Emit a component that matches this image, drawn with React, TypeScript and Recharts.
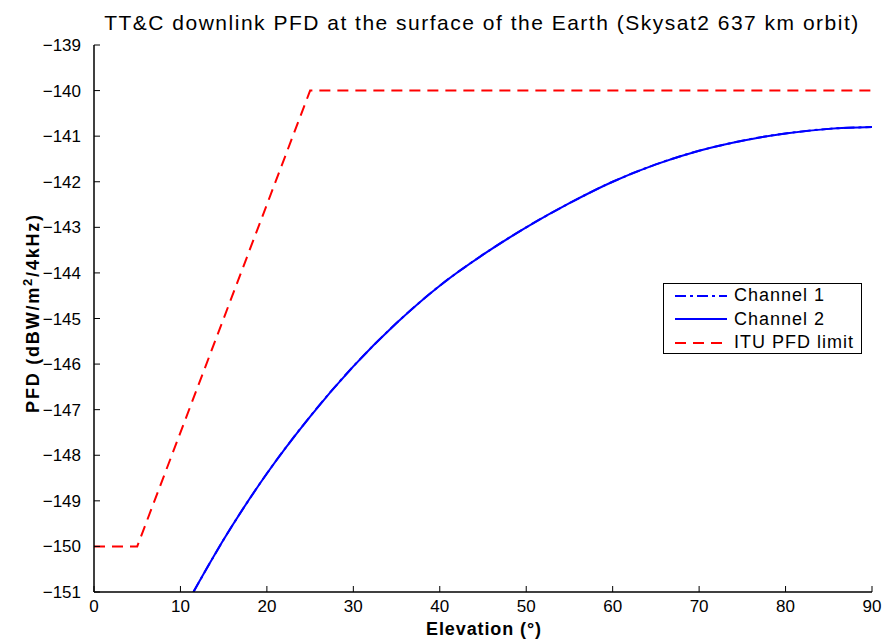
import { LineChart, Line, XAxis, YAxis } from "recharts";

// elevation angle (deg) and PFD (dBW/m^2/4kHz)
const elevation = [11.5, 15, 20, 25, 30, 35, 40, 45, 50, 55, 60, 65, 70, 75, 80, 85, 90];
const channel2 = [
  -151.0, -149.85, -148.4, -147.15, -146.05, -145.1, -144.28, -143.6, -143.0, -142.47,
  -142.0, -141.62, -141.32, -141.1, -140.94, -140.84, -140.8,
];
// channel 1 lies underneath channel 2
const channel1 = channel2.slice();

const ituElevation = [0, 5, 25, 90];
const ituLimit = [-150, -150, -140, -140];

const xTicks = [0, 10, 20, 30, 40, 50, 60, 70, 80, 90];
const yTicks = [-151, -150, -149, -148, -147, -146, -145, -144, -143, -142, -141, -140, -139];

const ch1Data = elevation.map((e, i) => ({ e, v: channel1[i] }));
const ch2Data = elevation.map((e, i) => ({ e, v: channel2[i] }));
const ituData = ituElevation.map((e, i) => ({ e, v: ituLimit[i] }));

const FONT = "'Liberation Sans', Arial, Helvetica, sans-serif";
const tickStyle = { fontSize: 17, fill: "#000", fontFamily: FONT };
const axisLine = { stroke: "#000", strokeWidth: 1.5 };
const minus = (v: number) => String(v).replace("-", "\u2212");

const legendItems = [
  { name: "Channel 1", color: "#0000ff", dash: "11 4 3 4" },
  { name: "Channel 2", color: "#0000ff", dash: undefined },
  { name: "ITU PFD limit", color: "#ff0000", dash: "11 7" },
];

function LegendBox() {
  return (
    <div
      style={{
        position: "absolute",
        left: 663,
        top: 283,
        width: 199,
        height: 71,
        border: "1px solid #000",
        background: "#fff",
        paddingLeft: 11,
        boxSizing: "border-box",
        fontFamily: FONT,
        fontSize: 18,
        letterSpacing: 1,
        lineHeight: "23.5px",
      }}
    >
      {legendItems.map((it) => (
        <div key={it.name} style={{ display: "flex", alignItems: "center", height: 23.5 }}>
          <svg width={52} height={10} style={{ marginRight: 7 }}>
            <line x1={0} y1={5} x2={52} y2={5} stroke={it.color} strokeWidth={2} strokeDasharray={it.dash} />
          </svg>
          <span>{it.name}</span>
        </div>
      ))}
    </div>
  );
}

export default function App() {
  return (
    <div style={{ position: "absolute", left: 0, top: 0, width: 884, height: 640, background: "#fff" }}>
      <LineChart width={884} height={640} margin={{ top: 45, right: 12, bottom: 18, left: 34 }}>
        <text
          x={482}
          y={30}
          textAnchor="middle"
          fontSize={21}
          letterSpacing={1.5}
          fontFamily={FONT}
          fill="#000"
        >
          TT&amp;C downlink PFD at the surface of the Earth (Skysat2 637 km orbit)
        </text>
        <text
          x={39}
          y={313}
          transform="rotate(-90 39 313)"
          textAnchor="middle"
          fontSize={18}
          letterSpacing={1.8}
          fontWeight="bold"
          fontFamily={FONT}
          fill="#000"
        >
          PFD (dBW/m
          <tspan dy={-7} fontSize={13}>2</tspan>
          <tspan dy={7}>/4kHz)</tspan>
        </text>
        <text
          x={484}
          y={635}
          textAnchor="middle"
          fontSize={18}
          letterSpacing={0.9}
          fontWeight="bold"
          fontFamily={FONT}
          fill="#000"
        >
          Elevation (°)
        </text>
        <XAxis
          xAxisId="b"
          dataKey="e"
          type="number"
          domain={[0, 90]}
          ticks={xTicks}
          allowDataOverflow
          height={30}
          tick={tickStyle}
          tickSize={-6}
          tickMargin={14}
          axisLine={axisLine}
          tickLine={{ stroke: "#000" }}
        />
        <XAxis
          xAxisId="t"
          orientation="top"
          dataKey="e"
          type="number"
          domain={[0, 90]}
          ticks={xTicks}
          height={0}
          tickFormatter={() => ""}
          tickSize={-6}
          axisLine={axisLine}
          tickLine={{ stroke: "#000" }}
        />
        <YAxis
          yAxisId="l"
          type="number"
          domain={[-151, -139]}
          ticks={yTicks}
          allowDataOverflow
          width={60}
          tick={tickStyle}
          tickFormatter={minus}
          tickSize={-6}
          tickMargin={19}
          axisLine={axisLine}
          tickLine={{ stroke: "#000" }}
          interval={0}
        />
        <YAxis
          yAxisId="r"
          orientation="right"
          type="number"
          domain={[-151, -139]}
          ticks={yTicks}
          width={0}
          tickFormatter={() => ""}
          tickSize={-6}
          axisLine={axisLine}
          tickLine={{ stroke: "#000" }}
          interval={0}
        />
        <Line
          xAxisId="b"
          yAxisId="l"
          data={ch1Data}
          dataKey="v"
          name="Channel 1"
          type="monotone"
          stroke="#0000ff"
          strokeWidth={2}
          strokeDasharray="11 4 3 4"
          dot={false}
          isAnimationActive={false}
        />
        <Line
          xAxisId="b"
          yAxisId="l"
          data={ch2Data}
          dataKey="v"
          name="Channel 2"
          type="monotone"
          stroke="#0000ff"
          strokeWidth={2}
          dot={false}
          isAnimationActive={false}
        />
        <Line
          xAxisId="b"
          yAxisId="l"
          data={ituData}
          dataKey="v"
          name="ITU PFD limit"
          type="linear"
          stroke="#ff0000"
          strokeWidth={2}
          strokeDasharray="11 7"
          dot={false}
          isAnimationActive={false}
        />
      </LineChart>
      <LegendBox />
    </div>
  );
}
